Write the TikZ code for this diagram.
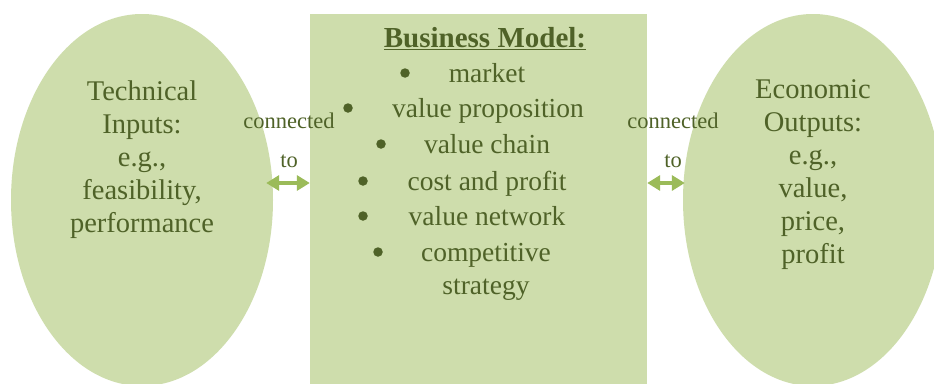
\documentclass[tikz,border=0pt]{standalone}
\usepackage{fontspec}
\setmainfont{Liberation Serif}
\usetikzlibrary{shapes.geometric,arrows.meta}
\definecolor{shapefill}{RGB}{206,221,172}
\definecolor{textgreen}{RGB}{79,98,40}
\definecolor{arrowgreen}{RGB}{155,187,89}
\begin{document}
\begin{tikzpicture}[x=1pt,y=-1pt,
  blob/.style={fill=shapefill, draw=none, inner sep=0pt},
  bigtext/.style={text=textgreen, font=\fontsize{28.5}{33}\selectfont, align=center, inner sep=0pt, anchor=north},
  itemtext/.style={text=textgreen, font=\fontsize{27.5}{32}\selectfont, inner sep=0pt, anchor=base},
  dot/.style={circle, fill=textgreen, inner sep=0pt, minimum size=9.5pt},
  linklabel/.style={text=textgreen, font=\fontsize{22.5}{26}\selectfont, inner sep=0pt, anchor=base},
  biarrow/.style={arrowgreen, line width=4.5pt,
    {Triangle[length=13pt,width=15pt]}-{Triangle[length=13pt,width=15pt]}}
]
\clip (0,0) rectangle (934,383);
\fill[white] (0,0) rectangle (934,383);

% three shapes
\node[blob, ellipse, minimum width=262pt, minimum height=372pt] (tech) at (142,200) {};
\node[blob, ellipse, minimum width=260pt, minimum height=372pt] (econ) at (813,200) {};
\node[blob, rectangle, minimum width=337pt, minimum height=390pt, anchor=north] (bm) at (478.5,14) {};

% ellipse texts
\node[bigtext] (techtext) at (142,81) {Technical\\Inputs:\\e.g.,\\feasibility,\\performance};
\node[bigtext] (econtext) at (813,79) {Economic\\Outputs:\\e.g.,\\value,\\price,\\profit};

% business model list
\node[itemtext, font=\fontsize{29}{32}\selectfont\bfseries] (title) at (485,47) {\underline{Business Model:}};
\node[itemtext] (i1) at (487,82) {market};
\node[itemtext] (i2) at (488,117) {value proposition};
\node[itemtext] (i3) at (487,153) {value chain};
\node[itemtext] (i4) at (487,190) {cost and profit};
\node[itemtext] (i5) at (487,225) {value network};
\node[itemtext] (i6) at (486,261) {competitive};
\node[itemtext] (i6b) at (486,294) {strategy};
\node[dot] (b1) at (405,73) {};
\node[dot] (b2) at (348,108) {};
\node[dot] (b3) at (381,144) {};
\node[dot] (b4) at (363,181) {};
\node[dot] (b5) at (363,216) {};
\node[dot] (b6) at (378,252) {};

% connector labels
\node[linklabel] (lc1) at (289,128) {connected};
\node[linklabel] (lc2) at (289,167) {to};
\node[linklabel] (rc1) at (673,128) {connected};
\node[linklabel] (rc2) at (673,167) {to};

% two-headed connectors
\draw[biarrow] ([xshift=-7pt,yshift=17pt]tech.east) -- (bm.west |- 0,183);
\draw[biarrow] (bm.east |- 0,183) -- ([xshift=2pt,yshift=17pt]econ.west);
\end{tikzpicture}
\end{document}
